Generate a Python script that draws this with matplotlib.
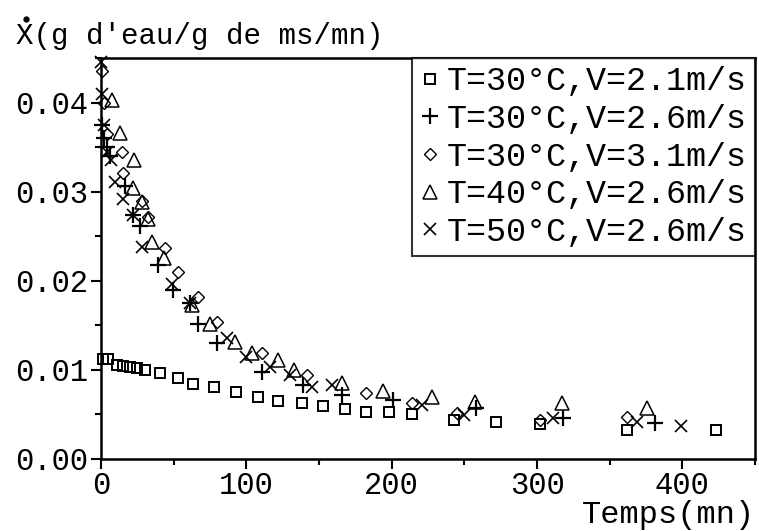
import matplotlib
matplotlib.use("Agg")
import matplotlib.pyplot as plt
from matplotlib.ticker import MultipleLocator
from matplotlib.lines import Line2D

FONT = "Liberation Mono"

labels = ["T=30°C,V=2.1m/s", "T=30°C,V=2.6m/s", "T=30°C,V=3.1m/s",
          "T=40°C,V=2.6m/s", "T=50°C,V=2.6m/s"]

# T=30°C, V=2.1 m/s (squares)
t_sq = [1.4, 4.8, 11, 15, 20, 25, 30, 40.5, 53, 63, 78, 93, 108, 122, 138, 153,
        168, 182, 198, 214, 243, 272, 302, 362, 423]
v_sq = [0.0112, 0.0112, 0.01056, 0.01045, 0.01034, 0.0102, 0.0100, 0.00966,
        0.0091, 0.0084, 0.0081, 0.0075, 0.0070, 0.0065, 0.0063, 0.0060, 0.0056,
        0.0053, 0.0053, 0.0051, 0.0044, 0.0042, 0.0039, 0.0033, 0.0033]

# T=30°C, V=2.6 m/s (plus)
t_pl = [0.5, 2, 4, 6, 16.5, 22, 27, 39, 49.5, 61, 67, 80, 111, 139, 166, 201,
        258, 318, 381]
v_pl = [0.0375, 0.0360, 0.0350, 0.0340, 0.0306, 0.0274, 0.0261, 0.0218, 0.0190,
        0.0175, 0.0151, 0.0130, 0.0098, 0.0083, 0.0072, 0.0066, 0.0057, 0.0046,
        0.0040]

# T=30°C, V=3.1 m/s (diamonds)
t_di = [0.5, 2, 4, 14.4, 15, 28, 32, 44, 53, 67, 80, 111, 142, 182, 214, 245,
        302, 362]
v_di = [0.0435, 0.0400, 0.0365, 0.0344, 0.0321, 0.0289, 0.0271, 0.0237, 0.0210,
        0.0182, 0.0154, 0.0119, 0.0094, 0.0074, 0.0063, 0.0052, 0.0044, 0.0047]

# T=40°C, V=2.6 m/s (triangles)
t_tr = [7.6, 13, 23, 22, 28, 32, 35, 43, 62.5, 75, 92, 104, 122, 133, 166, 194,
        227.5, 257, 317, 376]
v_tr = [0.0403, 0.0366, 0.0336, 0.0304, 0.0288, 0.0269, 0.0244, 0.0226, 0.0173,
        0.0151, 0.0131, 0.0119, 0.0111, 0.0100, 0.0085, 0.0076, 0.0070, 0.0064,
        0.0063, 0.0057]

# T=50°C, V=2.6 m/s (crosses)
t_x = [0.3, 1, 2, 4, 7, 9.6, 15, 22, 28, 49, 61, 87, 100, 116, 130, 145, 159,
       221, 250, 311, 369, 399]
v_x = [0.0445, 0.0410, 0.0375, 0.0345, 0.0335, 0.0311, 0.0292, 0.0274, 0.0238,
       0.0196, 0.0175, 0.0136, 0.0115, 0.0103, 0.0094, 0.0081, 0.0083, 0.0061,
       0.0049, 0.0046, 0.0042, 0.0037]

plt.rcParams['font.family'] = [FONT, 'DejaVu Sans']

fig = plt.figure(figsize=(7.59, 5.31), dpi=100)
ax = fig.add_axes([0.1331, 0.1356, 0.9947 - 0.1331, 0.8908 - 0.1356])

kw = dict(linestyle='none', color='black', markerfacecolor='none',
          markeredgecolor='black', clip_on=False)
ax.plot(t_sq, v_sq, marker='s', markersize=6.5, markeredgewidth=1.4, label=labels[0], **kw)
ax.plot(t_pl, v_pl, marker='+', markersize=12, markeredgewidth=1.6, label=labels[1], **kw)
ax.plot(t_di, v_di, marker='D', markersize=6.5, markeredgewidth=1.0, label=labels[2], **kw)
ax.plot(t_tr, v_tr, marker='^', markersize=10, markeredgewidth=1.1, label=labels[3], **kw)
ax.plot(t_x, v_x, marker='x', markersize=8, markeredgewidth=1.2, label=labels[4], **kw)

ax.set_xlim(0, 450)
ax.set_ylim(0, 0.045)
ax.xaxis.set_minor_locator(MultipleLocator(50))
ax.yaxis.set_minor_locator(MultipleLocator(0.005))
ax.set_yticks([0, 0.01, 0.02, 0.03, 0.04])
ax.set_yticklabels(["0.00", "0.01", "0.02", "0.03", "0.04"])
ax.set_xticks([0, 100, 200, 300, 400])
ax.set_xticklabels(["0", "100", "200", "300", "400"])

ax.tick_params(which='both', direction='out', top=False, right=False,
               labelsize=22, width=1.5, colors='black')
ax.tick_params(which='major', length=7, pad=2)
ax.tick_params(which='minor', length=4)
for s in ax.spines.values():
    s.set_linewidth(1.8)
    s.set_color('black')

fig.text(0.766, 0.002, "Temps(mn)", fontsize=23, ha='left', va='bottom')
fig.text(0.021, 0.905, "X(g d'eau/g de ms/mn)", fontsize=21, ha='left', va='bottom')
fig.add_artist(Line2D([0.034], [0.965], transform=fig.transFigure, marker='o',
                      markersize=3.5, color='black', linestyle='none'))

leg = ax.legend(loc='upper right', borderaxespad=0, fontsize=24, frameon=True,
                fancybox=False, edgecolor='black', handlelength=0.6,
                handletextpad=0.2, labelspacing=0.2, borderpad=0.25,
                markerscale=1.0)
leg.get_frame().set_linewidth(1.5)

fig.savefig("out.png", dpi=100)
